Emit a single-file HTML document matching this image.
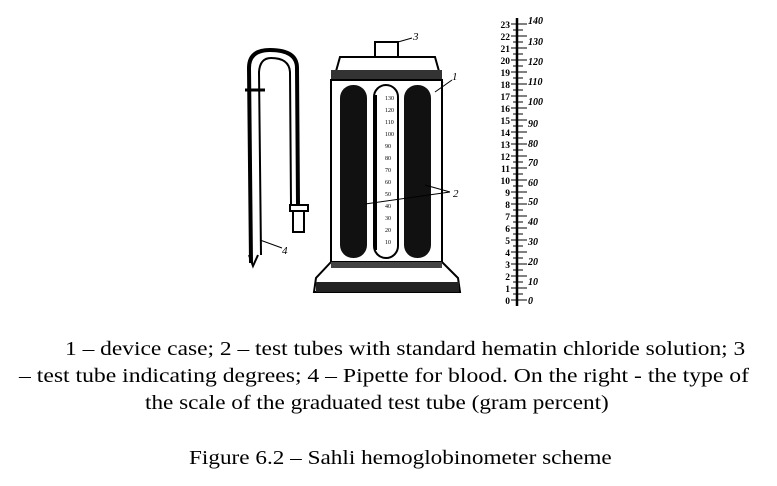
<!DOCTYPE html>
<html><head><style>
body{margin:0;width:777px;height:486px;background:#fff;overflow:hidden;font-family:"Liberation Serif",serif;color:#000}
.t{position:absolute;font-size:20px;white-space:nowrap;transform-origin:0 0}
</style></head><body>
<svg width="777" height="320" style="position:absolute;left:0;top:0" font-family="Liberation Serif" font-style="italic">
<!-- pipette -->
<path d="M251 263 L249 68 Q249 50 270 50 Q297 50 297 68 L298 205" fill="none" stroke="#000" stroke-width="4"/>
<path d="M261 255 L259 72 Q260 58 271 58 Q289 58 290 72 L291 205" fill="none" stroke="#000" stroke-width="2"/>
<line x1="245" y1="90" x2="265" y2="90" stroke="#000" stroke-width="3"/>
<rect x="290" y="205" width="18" height="6" fill="none" stroke="#000" stroke-width="2"/>
<rect x="293" y="211" width="11" height="21" fill="none" stroke="#000" stroke-width="2"/>
<path d="M249 255 L253 266 L258 255" fill="none" stroke="#000" stroke-width="2"/>
<line x1="260" y1="240" x2="282" y2="248" stroke="#000"/><text x="282" y="254" font-size="11">4</text>
<!-- case -->
<rect x="375" y="42" width="23" height="20" fill="#fff" stroke="#000" stroke-width="2"/>
<path d="M333 82 L340 57 L435 57 L442 82 Z" fill="#fff" stroke="#000" stroke-width="2"/>
<rect x="331" y="70" width="111" height="10" fill="#333"/>
<rect x="331" y="80" width="111" height="182" fill="#fff" stroke="#000" stroke-width="2"/>
<path d="M331 262 L316 278 L314 292 L460 292 L458 278 L442 262 Z" fill="#fff" stroke="#000" stroke-width="2"/>
<rect x="316" y="282" width="143" height="10" fill="#222"/>
<rect x="331" y="262" width="111" height="6" fill="#444"/>
<rect x="340" y="85" width="27" height="173" rx="13" fill="#111"/>
<rect x="404" y="85" width="27" height="173" rx="13" fill="#111"/>
<rect x="374" y="85" width="24" height="173" rx="12" fill="#fff" stroke="#000" stroke-width="2"/>
<line x1="376" y1="95" x2="376" y2="250" stroke="#000" stroke-width="2"/>
<g font-size="6" font-style="normal">
<text x="385" y="100">130</text><text x="385" y="112">120</text><text x="385" y="124">110</text><text x="385" y="136">100</text><text x="385" y="148">90</text><text x="385" y="160">80</text><text x="385" y="172">70</text><text x="385" y="184">60</text><text x="385" y="196">50</text><text x="385" y="208">40</text><text x="385" y="220">30</text><text x="385" y="232">20</text><text x="385" y="244">10</text></g>
<line x1="435" y1="92" x2="452" y2="80" stroke="#000"/><text x="452" y="80" font-size="11">1</text>
<line x1="365" y1="204" x2="450" y2="192" stroke="#000"/><line x1="425" y1="185" x2="450" y2="192" stroke="#000"/>
<text x="453" y="197" font-size="11">2</text>
<line x1="398" y1="42" x2="412" y2="38" stroke="#000"/><text x="413" y="40" font-size="11">3</text>
<!-- scale -->
<line x1="517" y1="18" x2="517" y2="306" stroke="#000" stroke-width="2.5"/>
<g stroke="#000" stroke-width="1">
<path d="M511 24H527M511 36H527M511 48H527M511 60H527M511 72H527M511 84H527M511 96H527M511 108H527M511 120H527M511 132H527M511 144H527M511 156H527M511 168H527M511 180H527M511 192H527M511 204H527M511 216H527M511 228H527M511 240H527M511 252H527M511 264H527M511 276H527M511 288H527M511 300H527M513 30H523M513 42H523M513 54H523M513 66H523M513 78H523M513 90H523M513 102H523M513 114H523M513 126H523M513 138H523M513 150H523M513 162H523M513 174H523M513 186H523M513 198H523M513 210H523M513 222H523M513 234H523M513 246H523M513 258H523M513 270H523M513 282H523M513 294H523"/>
</g>
<g font-size="9.5" font-style="normal" font-weight="bold" text-anchor="end">
<text x="510" y="304">0</text><text x="510" y="292">1</text><text x="510" y="280">2</text><text x="510" y="268">3</text><text x="510" y="256">4</text><text x="510" y="244">5</text><text x="510" y="232">6</text><text x="510" y="220">7</text><text x="510" y="208">8</text><text x="510" y="196">9</text><text x="510" y="184">10</text><text x="510" y="172">11</text><text x="510" y="160">12</text><text x="510" y="148">13</text><text x="510" y="136">14</text><text x="510" y="124">15</text><text x="510" y="112">16</text><text x="510" y="100">17</text><text x="510" y="88">18</text><text x="510" y="76">19</text><text x="510" y="64">20</text><text x="510" y="52">21</text><text x="510" y="40">22</text><text x="510" y="28">23</text></g>
<g font-size="10" font-weight="bold">
<text x="528" y="304">0</text><text x="528" y="285">10</text><text x="528" y="265">20</text><text x="528" y="245">30</text><text x="528" y="225">40</text><text x="528" y="205">50</text><text x="528" y="186">60</text><text x="528" y="166">70</text><text x="528" y="147">80</text><text x="528" y="127">90</text><text x="528" y="105">100</text><text x="528" y="85">110</text><text x="528" y="65">120</text><text x="528" y="45">130</text><text x="528" y="24">140</text></g>
</svg>
<div class="t" style="left:65px;top:338px;transform:scaleX(1.172)">1 – device case; 2 – test tubes with standard hematin chloride solution; 3</div>
<div class="t" style="left:19px;top:365px;transform:scaleX(1.183)">– test tube indicating degrees; 4 – Pipette for blood. On the right - the type of</div>
<div class="t" style="left:145px;top:392px;transform:scaleX(1.16)">the scale of the graduated test tube (gram percent)</div>
<div class="t" style="left:189px;top:447px;transform:scaleX(1.16)">Figure 6.2 – Sahli hemoglobinometer scheme</div>
</body></html>
